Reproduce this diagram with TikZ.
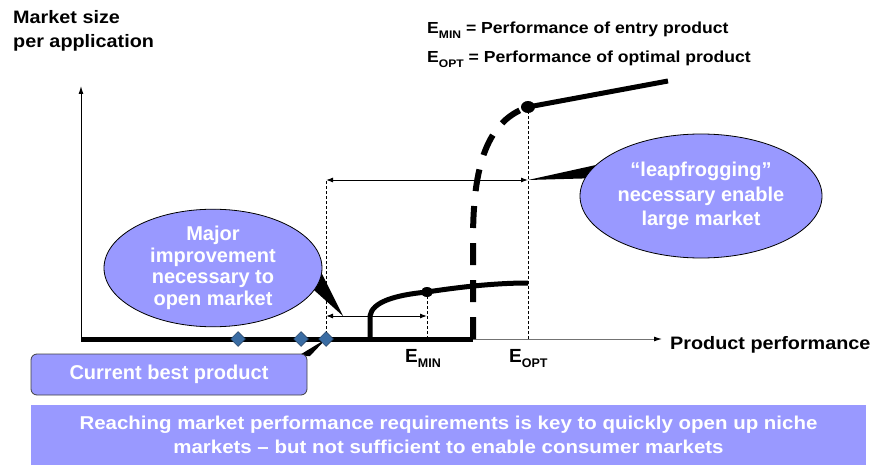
\documentclass[tikz,border=0pt]{standalone}
\usepackage{fontspec}
\setmainfont{Liberation Sans}
\newfontfamily\widesans[FakeStretch=1.1]{Liberation Sans}
\usetikzlibrary{shapes.geometric,arrows.meta}
\definecolor{lilac}{RGB}{153,153,255}
\definecolor{gem}{RGB}{58,108,163}
\newcommand\esub[3]{#1\raisebox{-0.28em}{\fontsize{#3}{#3}\selectfont #2}}

\begin{document}
\begin{tikzpicture}[x=1pt,y=-1pt,
  curve/.style={line width=5pt},
  guide/.style={line width=0.7pt, dash pattern=on 3pt off 2pt},
  span/.style={line width=1pt, {Latex[length=7pt,width=5pt]}-{Latex[length=7pt,width=5pt]}},
  bubble/.style={ellipse, draw=black, line width=0.8pt, fill=lilac, text=white,
    align=center, inner sep=0pt},
  gemstone/.style={diamond, fill=gem, draw=gem!55!black, line width=0.5pt,
    minimum width=15pt, minimum height=15pt, inner sep=0pt},
  label/.style={inner sep=0pt, anchor=base west}
]
\useasboundingbox (0,0) rectangle (877,465);

% ---- key points of the curves
\coordinate (O) at (81,339);
\coordinate (ytop) at (81,86);
\coordinate (xend) at (662,339);
\coordinate (jump) at (473,339);
\coordinate (entry) at (370,339);
\coordinate (emin) at (427,292);
\coordinate (eminfoot) at (427,339);
\coordinate (eopt) at (528,107);
\coordinate (eoptfoot) at (528,339);
\coordinate (niche) at (528,283);
\coordinate (mass) at (668,81);
\coordinate (gapL) at (326,180);
\coordinate (gapR) at (528,180);
\coordinate (stepL) at (326,316);
\coordinate (stepR) at (427,316);
\coordinate (tipA) at (343,316);

% ---- texts
\node[label, font=\widesans\bfseries\fontsize{18}{18}\selectfont]
  (ylab1) at (13,24) {Market size};
\node[label, font=\widesans\bfseries\fontsize{18}{18}\selectfont]
  (ylab2) at (13,48) {per application};
\node[label, font=\widesans\bfseries\fontsize{16}{16}\selectfont]
  (legmin) at (427,34) {\esub{E}{MIN}{11} = Performance of entry product};
\node[label, font=\widesans\bfseries\fontsize{16}{16}\selectfont]
  (legopt) at (427,63) {\esub{E}{OPT}{11} = Performance of optimal product};
\node[label, font=\widesans\bfseries\fontsize{18}{18}\selectfont]
  (xlab) at (670,349) {Product performance};
\node[label, font=\bfseries\fontsize{19}{19}\selectfont]
  (lmin) at (405,362) {\esub{E}{MIN}{12.5}};
\node[label, font=\bfseries\fontsize{19}{19}\selectfont]
  (lopt) at (509,362) {\esub{E}{OPT}{12.5}};

% ---- axes
\draw[line width=1pt, -{Latex[length=8pt,width=5pt]}] (O) -- (ytop);
\draw[line width=1pt, black!55, -{Latex[length=8pt,width=5pt,color=black]}] (jump) -- (xend);

% ---- guide lines and spans
\draw[guide] (eoptfoot) -- (eopt);
\draw[guide] (eminfoot) -- (emin);
\draw[span] (gapL) -- (gapR);
\draw[span] (stepL) -- (stepR);

% ---- curves
\draw[curve] (O) -- (jump);
\draw[curve] (entry) -- (370,316) .. controls (372,302) and (395,295) .. (emin)
  .. controls (460,287) and (495,283) .. (niche);
\draw[line width=6pt, dash pattern=on 22pt off 15pt] (jump) -- (473,240)
  .. controls (473,175) and (483,122) .. (eopt);
\draw[curve] (eopt) -- (mass);
\fill (emin) ellipse (6pt and 5pt);
\fill (eopt) ellipse (7pt and 6pt);

% ---- existing products on the axis
\node[gemstone] (d1) at (238,339) {};
\node[gemstone] (d2) at (301,339) {};
\draw[guide] (326,339) -- (gapL);
\fill (326,339) -- (298,356) -- (310,356) -- cycle;
\node[gemstone] (d3) at (326,339) {};

% ---- callouts
\fill (tipA) -- (305,282) -- (318,266) -- cycle;
\node[bubble, minimum width=218pt, minimum height=104pt,
  font=\bfseries\fontsize{20}{21.5}\selectfont] (major) at (213,268)
  {Major\\improvement\\necessary to\\open market};

\fill (gapR) -- (605,163) -- (600,178) -- cycle;
\node[bubble, minimum width=242pt, minimum height=124pt,
  font=\bfseries\fontsize{20}{24.5}\selectfont] (leap) at (701,196)
  {“leapfrogging”\\necessary enable\\large market};

\node[draw=black!75, line width=0.8pt, fill=lilac, rounded corners=6pt,
  minimum width=276pt, minimum height=41pt, inner sep=0pt, text=white,
  font=\bfseries\fontsize{20}{20}\selectfont] (best) at (169,374.5)
  {Current best product};

% ---- conclusion banner
\node[fill=lilac, minimum width=835pt, minimum height=60pt, inner sep=0pt,
  text=white, align=center, font=\widesans\bfseries\fontsize{18.6}{24}\selectfont]
  (banner) at (448.5,435)
  {Reaching market performance requirements is key to quickly open up niche\\
   markets – but not sufficient to enable consumer markets};
\end{tikzpicture}
\end{document}
